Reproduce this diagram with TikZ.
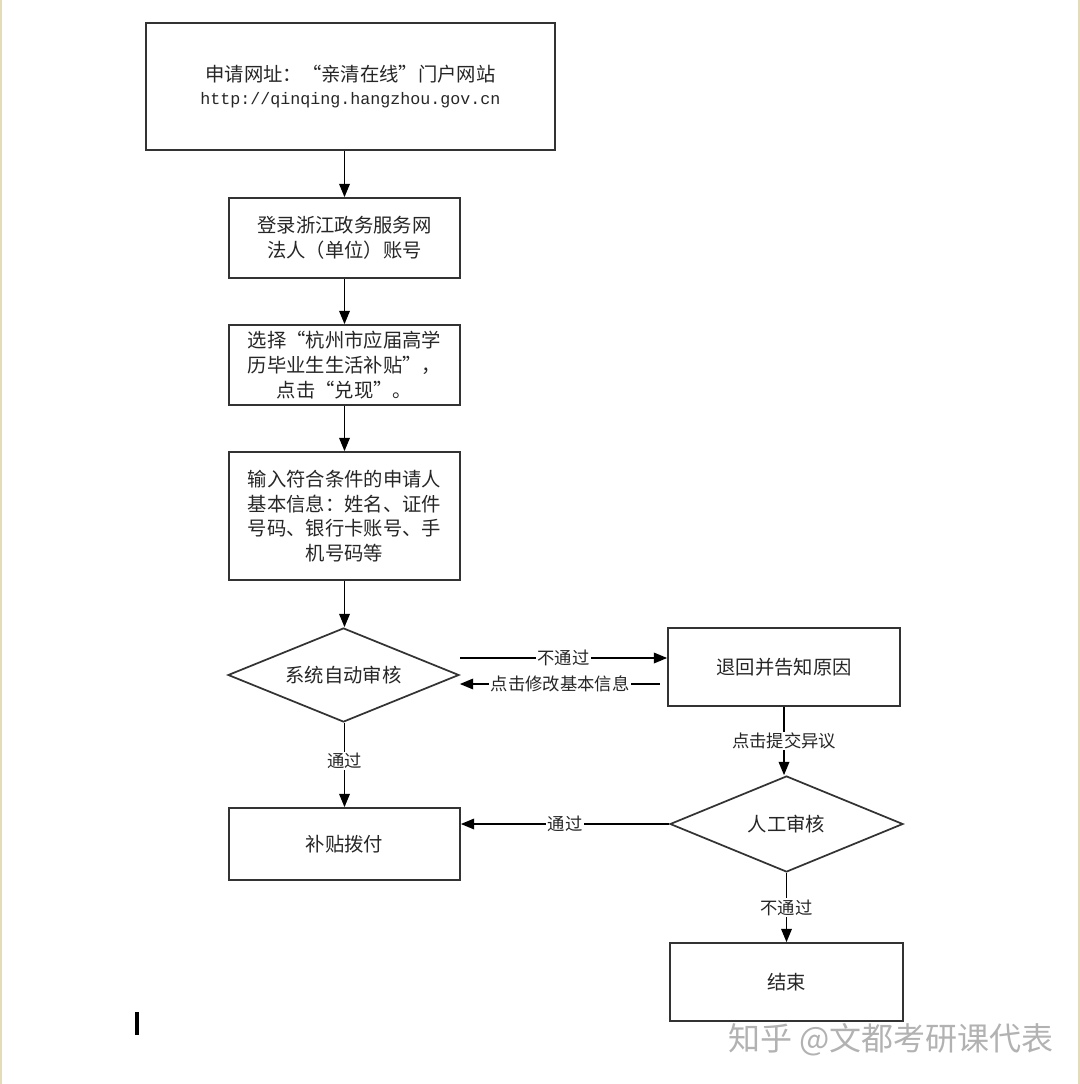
\documentclass[tikz,border=0pt]{standalone}
\usepackage{fontspec}
\newfontfamily\cjk{Noto Sans CJK SC}
\newfontfamily\monof{Liberation Mono}
\usetikzlibrary{arrows.meta,shapes.geometric}
\begin{document}
\begin{tikzpicture}[x=0.75pt,y=-0.75pt,
  box/.style={draw=black!80, line width=1.3pt, fill=white, inner sep=0pt, align=center,
    font=\cjk\fontsize{14.5}{18.5}\selectfont, text=black!85},
  dec/.style={draw=black!80, line width=1.3pt, shape=diamond, aspect=2.45, inner sep=0pt,
    font=\cjk\fontsize{14.5}{18.5}\selectfont, text=black!85},
  flow/.style={draw=black, line width=1.1pt, -{Triangle[length=10pt,width=8pt]}},
  lab/.style={fill=white, inner sep=1pt, font=\cjk\fontsize{13}{15}\selectfont, text=black!85}
]
\useasboundingbox (0,0) rectangle (1080,1084);
\fill[white] (0,0) rectangle (1080,1084);
\draw[draw={rgb,255:red,228;green,220;blue,185}, line width=1.6pt] (1,0) -- (1,1084);
\draw[draw={rgb,255:red,228;green,220;blue,185}, line width=1.6pt] (1079,0) -- (1079,1084);

% boxes
\node[box, minimum width=306.75pt, minimum height=95.25pt] (b1) at (350.5,86.5)
  {申请网址：“亲清在线”门户网站\\[-1pt]{\monof\fontsize{12.5}{16}\selectfont http://qinqing.hangzhou.gov.cn}};
\node[box, minimum width=173.25pt, minimum height=60pt] (b2) at (344.5,238)
  {登录浙江政务服务网\\法人（单位）账号};
\node[box, minimum width=173.25pt, minimum height=60pt] (b3) at (344.5,365)
  {选择“杭州市应届高学\\历毕业生生活补贴”，\\点击“兑现”。};
\node[box, minimum width=173.25pt, minimum height=96pt] (b4) at (344.5,516)
  {输入符合条件的申请人\\基本信息：姓名、证件\\号码、银行卡账号、手\\机号码等};
\node[dec, minimum width=173.25pt, minimum height=70.5pt] (d1) at (343.5,675) {系统自动审核};
\node[box, minimum width=173.25pt, minimum height=54pt] (b5) at (344.5,844) {补贴拨付};
\node[box, minimum width=174pt, minimum height=58.5pt] (b6) at (784,667) {退回并告知原因};
\node[dec, minimum width=174.75pt, minimum height=72pt] (d2) at (786.5,824) {人工审核};
\node[box, minimum width=174.75pt, minimum height=58.5pt] (b7) at (786.5,982) {结束};

% vertical flow
\draw[flow] (b1.south -| b2.north) -- (b2.north);
\draw[flow] (b2.south) -- (b3.north);
\draw[flow] (b3.south) -- (b4.north);
\draw[flow] (b4.south) -- (b4.south |- d1.north);
\draw[flow] (d1.south -| b5.north) -- node[lab, pos=0.45] {通过} (b5.north);

% between d1 and b6
\coordinate (t1) at ([yshift=12.75pt]d1.east);
\coordinate (t2) at ([yshift=6.75pt]b6.west);
\draw[flow] (t1) -- node[lab] {不通过} (t2);
\coordinate (u1) at ([xshift=-5.25pt,yshift=-12.75pt]b6.west);
\coordinate (u2) at ([yshift=-6.75pt]d1.east);
\draw[flow] (u1) -- node[lab] {点击修改基本信息} (u2);

% b6 to d2
\draw[flow] (b6.south) -- node[lab, pos=0.5] {点击提交异议} (b6.south |- d2.north);
% d2 to b5
\draw[flow] (d2.west) -- node[lab, pos=0.5] {通过} (d2.west -| b5.east);
% d2 to b7
\draw[flow] (d2.south) -- node[lab, pos=0.5] {不通过} (b7.north);

% stray mark
\draw[black, line width=2.8pt] (137,1012) -- (137,1035);

% watermark
\node[font=\cjk\fontsize{24}{28}\selectfont, text=black!30, inner sep=0pt] (wm) at (891,1040) {知乎 @文都考研课代表};
\end{tikzpicture}
\end{document}
